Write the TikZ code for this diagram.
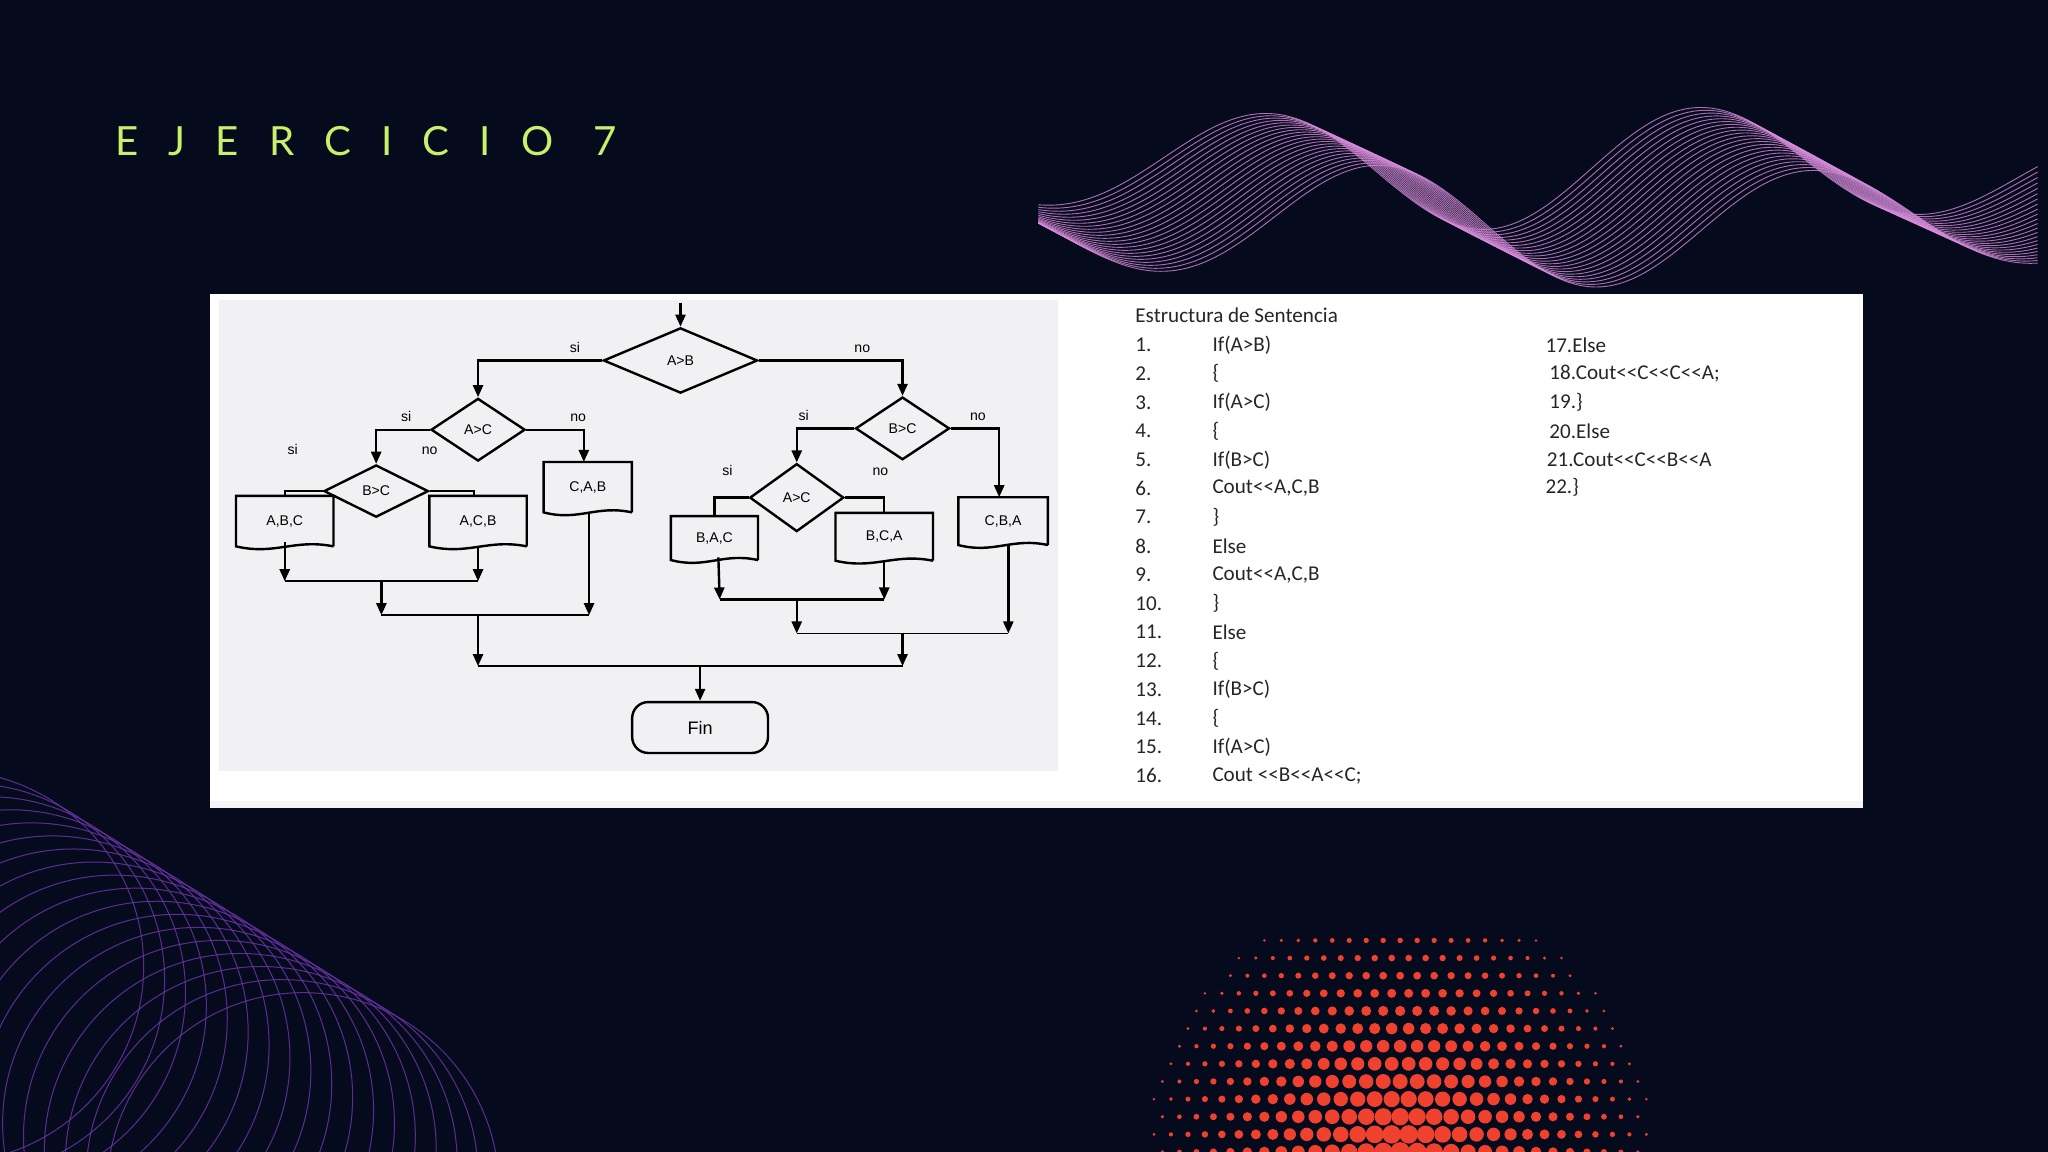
\documentclass[tikz,border=0pt]{standalone}
\usepackage{fontspec}
\setmainfont{Carlito}
\newfontfamily\flowfont{Liberation Sans}
\newfontfamily\titlefont[LetterSpace=75]{Lato}
\usetikzlibrary{calc,shapes.geometric,arrows.meta}

\definecolor{bgdark}{HTML}{050B1C}
\definecolor{titlegreen}{HTML}{C8F06A}
\definecolor{wavepink}{HTML}{D48AD8}
\definecolor{ringpurple}{HTML}{6A34A8}
\definecolor{dotred}{HTML}{F0402E}
\definecolor{panelgrey}{HTML}{F1F1F3}

\tikzset{
  flow/.style={draw, line width=1.2pt, font=\flowfont\fontsize{7}{8}\selectfont, inner sep=1pt},
  cond/.style={flow, diamond, aspect=1.45, minimum width=72*0.65, minimum height=48*0.65},
  cond big/.style={cond, minimum width=118*0.65, minimum height=50*0.65, aspect=2.3},
  outp/.style={font=\flowfont\fontsize{7}{8}\selectfont, minimum width=70*0.65, minimum height=38*0.65, inner sep=0pt},
  term/.style={flow, rounded corners=8pt, minimum width=104*0.65, minimum height=39*0.65, font=\flowfont\fontsize{9}{10}\selectfont},
  lnk/.style={line width=1.2pt},
  arr/.style={lnk, -{Triangle[length=6pt,width=5pt]}},
  lbl/.style={font=\flowfont\fontsize{7}{8}\selectfont},
  code/.style={anchor=west, font=\fontsize{10.5}{12}\selectfont, inner sep=0pt, text=black!85}
}
% document shape drawn round an output node
\newcommand{\docline}[1]{%
  \draw[lnk] (#1.south east) -- (#1.north east) -- (#1.north west) -- (#1.south west)
    .. controls ($(#1.south west)!0.4!(#1.south east)+(0,7)$) and ($(#1.south west)!0.6!(#1.south east)+(0,-6)$) .. (#1.south east);}

\begin{document}
\begin{tikzpicture}[x=0.65pt,y=-0.65pt]
\useasboundingbox[fill=bgdark] (0,0) rectangle (1568,882);

% background ornaments
\begin{scope}
\clip (0,0) rectangle (1568,882);
\foreach \i in {0,...,17}
  \draw[ringpurple, line width=0.5pt, opacity=0.85] (-40+\i*16,740+\i*10) circle (150);
\foreach \i in {0,...,22}
  \draw[wavepink, line width=0.45pt, opacity=0.8, domain=795:1560, samples=120, smooth]
    plot (\x, {128+\i*2-48*sin((\x-880-\i*4)*1.06)*(0.6+0.4*sin((\x-795)/4.3))});
\foreach \cx in {-15,...,15} \foreach \cy in {0,...,12} {
  \pgfmathsetmacro{\px}{1072+\cx*13+mod(\cy,2)*6.5}
  \pgfmathsetmacro{\py}{882-\cy*13.5}
  \pgfmathsetmacro{\rr}{max(0,7.6-0.34*sqrt(((\px-1072)/10)^2+((\py-882)/10)^2))}
  \ifdim\rr pt>1pt \fill[dotred] (\px,\py) circle (\rr); \fi
}
\end{scope}

\node[anchor=west, text=titlegreen, font=\titlefont\fontsize{20}{22}\selectfont, inner sep=0pt] (title) at (88,108) {EJERCICIO 7};

% panel
\fill[white] (161,225) rectangle (1426,619);
\fill[panelgrey] (168,230) rectangle (810,590);
\fill[panelgrey!70!white] (161,613) rectangle (1426,619);

% flowchart
\coordinate (start) at (521,232);
\node[cond big] (ab) at (521,276) {A>B};
\node[cond] (acl) at (366,329) {A>C};
\node[cond, minimum width=80*0.65, minimum height=40*0.65] (bcl) at (288,376) {B>C};
\node[cond] (bcr) at (691,328) {B>C};
\node[cond, minimum height=52*0.65] (acr) at (610,381) {A>C};
\node[outp, minimum width=74*0.65] (abc) at (218,399) {A,B,C};
\node[outp, minimum width=74*0.65] (acb) at (366,399) {A,C,B};
\node[outp, minimum width=67*0.65, minimum height=38*0.65] (cab) at (450,373) {C,A,B};
\node[outp, minimum width=66*0.65, minimum height=33*0.65] (bac) at (547,412) {B,A,C};
\node[outp, minimum width=74*0.65, minimum height=36*0.65] (bca) at (677,411) {B,C,A};
\node[outp, minimum width=68*0.65, minimum height=36*0.65] (cba) at (768,399) {C,B,A};
\node[term] (fin) at (536,557) {Fin};
\foreach \n in {abc,acb,cab,bac,bca,cba} {\docline{\n}}

\coordinate (j1) at (292,445);
\coordinate (j2) at (366,471);
\coordinate (j3) at (610,459);
\coordinate (j4) at (691,485);
\coordinate (j5) at (536,510);

\draw[arr] (start) -- (ab);
\draw[arr] (ab.west) -| (acl.north) node[lbl, pos=0.11, above] {si};
\draw[arr] (ab.east) -| (bcr.north) node[lbl, pos=0.36, above] {no};
\draw[arr] (acl.west) -| (bcl.north) node[lbl, pos=0.22, above] {si};
\draw[arr] (acl.east) -| (cab.north -| 447,0) node[lbl, pos=0.45, above] {no};
\draw[lnk] (bcl.west) -| (abc.north) node[lbl, pos=0.5, above=14pt, xshift=4pt] {si};
\draw[lnk] (bcl.east) -| ($(acb.north)+(-3,0)$) node[lbl, pos=0, above=14pt] {no};
\draw[arr] (bcr.west) -| (acr.north) node[lbl, pos=0.44, above] {si};
\draw[arr] (bcr.east) -| (cba.north -| 765,0) node[lbl, pos=0.28, above] {no};
\draw[lnk] (acr.west) -| (bac.north) node[lbl, pos=0.31, above=7pt] {si};
\draw[lnk] (acr.east) -| (bca.north) node[lbl, pos=0.45, above=7pt] {no};

\draw[arr] ($(abc.south)+(0,-3)$) -- (abc.south |- j1);
\draw[arr] (acb.south) -- (acb.south |- j1);
\draw[lnk] (abc.south |- j1) -- (acb.south |- j1);
\draw[arr] (j1) -- (j1 |- j2);
\draw[arr] (cab.south -| 451,0) -- (451,471);
\draw[lnk] (j1 |- j2) -- (451,471);
\draw[arr] ($(bac.south)+(3,-2)$) -- (551,459);
\draw[arr] (bca.south) -- (bca.south |- j3);
\draw[lnk] (551,459) -- (bca.south |- j3);
\draw[arr] (j3) -- (j3 |- j4);
\draw[arr] (cba.south -| 772,0) -- (772,485);
\draw[lnk, line width=0.7pt] (j3 |- j4) -- (772,485);
\draw[arr] (j2) -- (j2 |- j5);
\draw[arr] (j4) -- (j4 |- j5);
\draw[lnk] (j2 |- j5) -- (j4 |- j5);
\draw[arr] (j5) -- (fin.north);

% sentence list
\node[code] (head) at (869,241) {Estructura de Sentencia};
\foreach \k/\t [count=\r] in {1./If(A>B), 2./\{, 3./If(A>C), 4./\{, 5./If(B>C), 6./Cout<{}<A{,}C{,}B,
    7./\}, 8./Else, 9./Cout<{}<A{,}C{,}B, 10./\}, 11./Else, 12./\{, 13./If(B>C), 14./\{, 15./If(A>C),
    16./Cout <{}<B<{}<A<{}<C;} {
  \node[code] (num\r) at (869,242+\r*22) {\k};
  \node[code] (line\r) at (928,242+\r*22) {\t};
}
\node[code] (line17) at (1183,264) {17.Else};
\node[code] (line18) at (1186,286) {18.Cout<{}<C<{}<C<{}<A;};
\node[code] (line19) at (1186,308) {19.\}};
\node[code] (line20) at (1186,330) {20.Else};
\node[code] (line21) at (1184,352) {21.Cout<{}<C<{}<B<{}<A};
\node[code] (line22) at (1183,373) {22.\}};
\end{tikzpicture}
\end{document}
